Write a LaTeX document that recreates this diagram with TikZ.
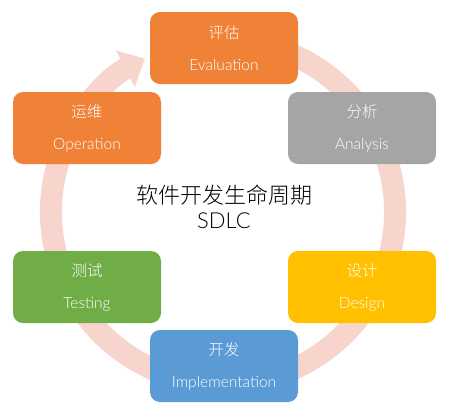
\documentclass[tikz,border=0pt]{standalone}
\usepackage{fontspec}
\setmainfont{Lato}[UprightFont=* Light]
\newfontfamily\cjk{Noto Sans CJK SC}[UprightFont=* Light]
\usepackage{xcolor}
\usetikzlibrary{arrows.meta,calc}

\definecolor{ringpink}{HTML}{F8D5CC}
\definecolor{evalorange}{HTML}{F08237}
\definecolor{anagray}{HTML}{A5A5A5}
\definecolor{desyellow}{HTML}{FFC000}
\definecolor{impblue}{HTML}{5B9BD5}
\definecolor{testgreen}{HTML}{70AD47}

\begin{document}
\begin{tikzpicture}[x=1pt, y=-1pt,
    phase/.style={rounded corners=10pt, minimum width=148pt, minimum height=72pt,
        text=white, align=center, inner sep=0pt, font=\fontsize{15.5}{32}\selectfont},
    cycle/.style={line width=22pt, draw=ringpink}]
    \useasboundingbox (0,0) rectangle (450,416);
    \coordinate (mid) at (223,212);
    \draw[cycle, -{Triangle[width=40pt, length=22pt]}] ($(mid)+(-70:172)$) arc[start angle=-70, end angle=243, radius=172];
    \node[phase, fill=evalorange] (eval) at (224,48) {{\cjk 评估}\\Evaluation};
    \node[phase, fill=anagray] (ana) at (362,128) {{\cjk 分析}\\Analysis};
    \node[phase, fill=desyellow] (des) at (362,287) {{\cjk 设计}\\Design};
    \node[phase, fill=impblue] (imp) at (224,366) {{\cjk 开发}\\Implementation};
    \node[phase, fill=testgreen] (test) at (87,287) {{\cjk 测试}\\Testing};
    \node[phase, fill=evalorange] (oper) at (87,128) {{\cjk 运维}\\Operation};
    \node[align=center, font=\fontsize{22}{25}\selectfont] (sdlc) at (224,207) {{\cjk 软件开发生命周期}\\SDLC};
\end{tikzpicture}
\end{document}
